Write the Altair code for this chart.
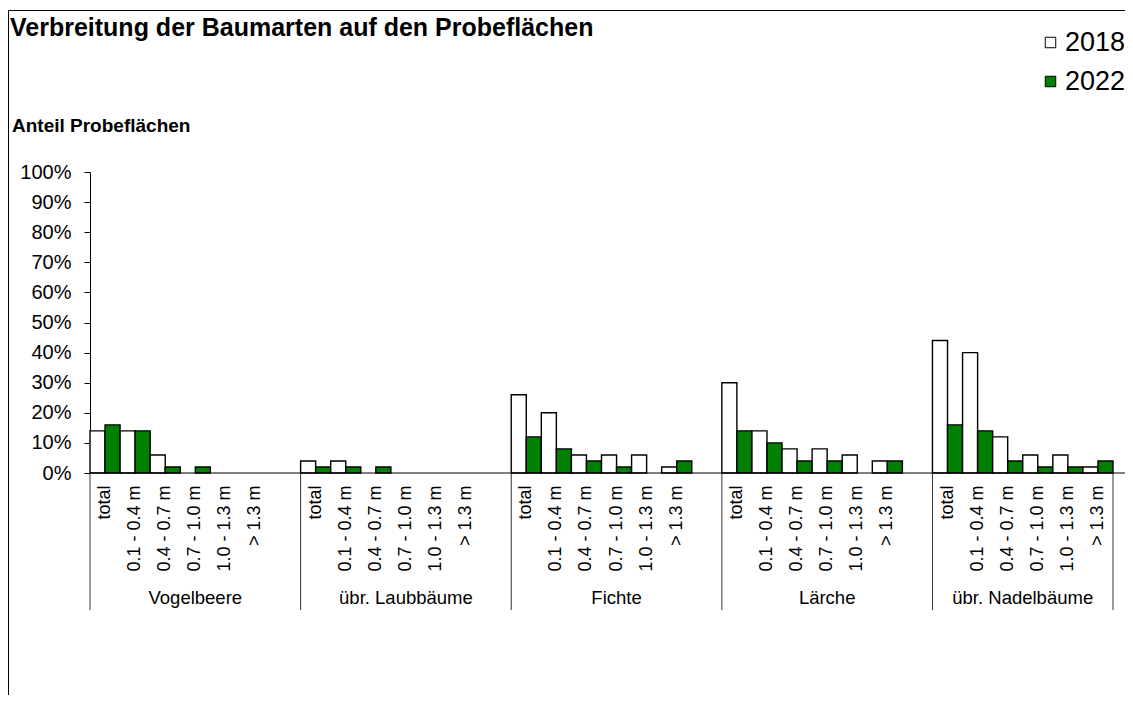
import altair as alt
import pandas as pd

species = ["Vogelbeere", "übr. Laubbäume", "Fichte", "Lärche", "übr. Nadelbäume"]
classes = ["total", "0.1 - 0.4 m", "0.4 - 0.7 m", "0.7 - 1.0 m", "1.0 - 1.3 m", "> 1.3 m"]
years = ["2018", "2022"]
share_2018 = [
    [14, 14, 6, 0, 0, 0],
    [4, 4, 0, 0, 0, 0],
    [26, 20, 6, 6, 6, 2],
    [30, 14, 8, 8, 6, 4],
    [44, 40, 12, 6, 6, 2],
]
share_2022 = [
    [16, 14, 2, 2, 0, 0],
    [2, 2, 2, 0, 0, 0],
    [12, 8, 4, 2, 0, 4],
    [14, 10, 4, 4, 0, 4],
    [16, 14, 4, 2, 2, 4],
]
y_ticks = list(range(0, 101, 10))
chart_title = "Verbreitung der Baumarten auf den Probeflächen"
y_title = "Anteil Probeflächen"

FONT = "Liberation Sans"
W, H = 1023, 301

# category domain: 6 classes per species, blank slot between species groups
domain = []
for i, sp in enumerate(species):
    for c in classes:
        domain.append(f"{i}|{c}")
    if i < len(species) - 1:
        domain.append(f"{i}|")

rows = []
for i, sp in enumerate(species):
    for j, c in enumerate(classes):
        rows.append({"key": f"{i}|{c}", "year": "2018", "value": share_2018[i][j]})
        rows.append({"key": f"{i}|{c}", "year": "2022", "value": share_2022[i][j]})
bars_df = pd.DataFrame(rows)

xscale = alt.Scale(domain=domain, paddingInner=0, paddingOuter=0)
xaxis = alt.Axis(title=None, labelExpr="split(datum.value, '|')[1]",
                 labelAngle=270, labelAlign="right", labelBaseline="middle",
                 labelPadding=12, labelFontSize=18, labelFont=FONT,
                 labelColor="black", ticks=False, domain=False, grid=False,
                 labelOverlap=False, labelBound=False)

bars = alt.Chart(bars_df).transform_filter("datum.value > 0").mark_bar(
    stroke="black", strokeWidth=1.4
).encode(
    x=alt.X("key:N", scale=xscale, sort=domain, axis=xaxis),
    xOffset=alt.XOffset("year:N", scale=alt.Scale(domain=years, paddingInner=0, paddingOuter=0)),
    y=alt.Y("value:Q", scale=alt.Scale(domain=[0, 100], nice=False),
            axis=alt.Axis(title=None, values=y_ticks, labelExpr="datum.value + '%'",
                          grid=False, tickSize=6, labelPadding=13, labelFontSize=20,
                          labelFont=FONT, labelColor="black", domainColor="black",
                          tickColor="black")),
    fill=alt.Fill("year:N", scale=alt.Scale(domain=years, range=["white", "#008000"]),
                  legend=alt.Legend(title=None, orient="none", legendX=947, legendY=-143,
                                    symbolType="square", symbolSize=110,
                                    symbolStrokeColor="black", symbolStrokeWidth=1,
                                    labelFontSize=27, labelFont=FONT, labelColor="black",
                                    labelOffset=1, rowPadding=11)),
)

one = pd.DataFrame({"a": [0]})

x_domain_line = alt.Chart(one).mark_rule(color="black", strokeWidth=1).encode(
    x=alt.value(0), x2=alt.value(W + 20), y=alt.value(H)
)

sep_df = pd.DataFrame({"key": [f"{i}|total" for i in range(len(species))]})
seps = alt.Chart(sep_df).mark_rule(color="#333333", strokeWidth=1).encode(
    x=alt.X("key:N", scale=xscale, axis=xaxis, bandPosition=0),
    y=alt.value(H), y2=alt.value(H + 137),
)
sep_end = alt.Chart(pd.DataFrame({"key": [f"{len(species)-1}|> 1.3 m"]})).mark_rule(
    color="#333333", strokeWidth=1).encode(
    x=alt.X("key:N", scale=xscale, axis=xaxis, bandPosition=1),
    y=alt.value(H), y2=alt.value(H + 137),
)

grp_df = pd.DataFrame({"key": [f"{i}|0.7 - 1.0 m" for i in range(len(species) - 1)],
                       "name": species[:-1]})
grp_labels = alt.Chart(grp_df).mark_text(
    font=FONT, fontSize=18.5, color="black", baseline="middle", align="center"
).encode(
    x=alt.X("key:N", scale=xscale, axis=xaxis, bandPosition=0.5),
    y=alt.value(H + 125), text="name:N",
)
grp_last = alt.Chart(pd.DataFrame({"key": [f"{len(species)-1}|0.7 - 1.0 m"],
                                   "name": [species[-1]]})).mark_text(
    font=FONT, fontSize=18.5, color="black", baseline="middle", align="center"
).encode(
    x=alt.X("key:N", scale=xscale, axis=xaxis, bandPosition=0),
    y=alt.value(H + 125), text="name:N",
)

title_txt = alt.Chart(pd.DataFrame({"t": [chart_title]})).mark_text(
    font=FONT, fontSize=25, fontWeight="bold", color="black", align="left", baseline="alphabetic"
).encode(x=alt.value(-80), y=alt.value(-136), text="t:N")

ytitle_txt = alt.Chart(pd.DataFrame({"t": [y_title]})).mark_text(
    font=FONT, fontSize=19, fontWeight="bold", color="black", align="left", baseline="alphabetic"
).encode(x=alt.value(-78), y=alt.value(-40), text="t:N")

frame_top = alt.Chart(one).mark_rule(color="black", strokeWidth=1).encode(
    x=alt.value(-81.5), x2=alt.value(W + 40), y=alt.value(-161.5)
)
frame_left = alt.Chart(one).mark_rule(color="black", strokeWidth=1).encode(
    x=alt.value(-81.5), y=alt.value(-161.5), y2=alt.value(540)
)

chart = alt.layer(
    bars, x_domain_line, seps, sep_end, grp_labels, grp_last,
    title_txt, ytitle_txt, frame_top, frame_left
).properties(
    width=W, height=H,
    autosize=alt.AutoSizeParams(type="none"),
    padding={"left": 82, "top": 164, "right": 12, "bottom": 222},
).configure(font=FONT).configure_view(stroke=None)

chart.save("out.html", embed_options={"renderer": "svg", "actions": False})
